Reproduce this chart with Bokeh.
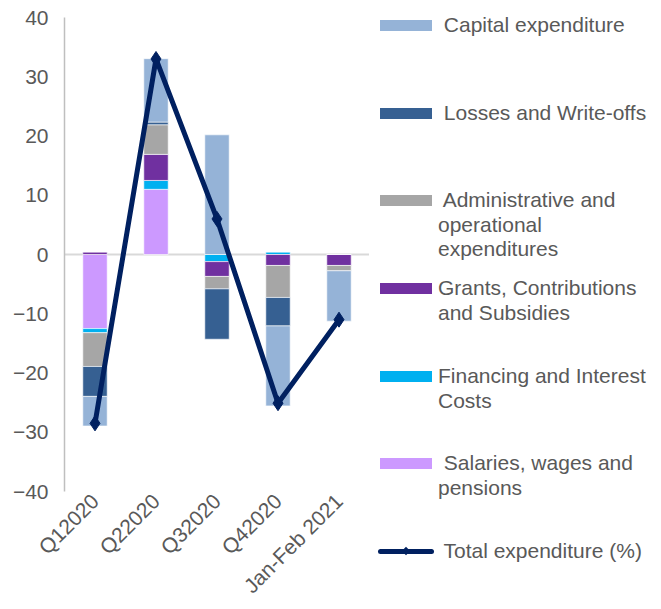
import math
from bokeh.plotting import figure
from bokeh.models import FactorRange, Range1d, FixedTicker, Span, ColumnDataSource, Div
from bokeh.layouts import row
from bokeh.embed import file_html
from bokeh.resources import INLINE

# ---------------- data ----------------
categories = ["Q12020", "Q22020", "Q32020", "Q42020", "Jan-Feb 2021"]
salaries = [-12.5, 11.0, 0.0, 0.0, 0.0]
financing = [-0.7, 1.5, -1.2, 0.4, 0.0]
grants = [0.4, 4.4, -2.5, -1.85, -1.85]
admin = [-5.7, 5.0, -2.1, -5.4, -0.9]
losses = [-5.05, 0.45, -8.5, -4.8, 0.0]
capital = [-5.0, 10.7, 20.2, -13.5, -8.5]
total = [-28.5, 33.0, 6.0, -25.1, -11.0]
y_ticks = [-40, -30, -20, -10, 0, 10, 20, 30, 40]

series_vals = [salaries, financing, grants, admin, losses, capital]
series_colors = ["#CC99FF", "#00B0F0", "#7030A0", "#A6A6A6", "#366092", "#95B3D7"]

# legend (top to bottom)
leg_names = [" Capital expenditure", " Losses and Write-offs",
             " Administrative and\noperational\nexpenditures",
             "Grants, Contributions\nand Subsidies", "Financing and Interest\nCosts",
             " Salaries, wages and\npensions"]
leg_colors = ["#95B3D7", "#366092", "#A6A6A6", "#7030A0", "#00B0F0", "#CC99FF"]
total_name = " Total expenditure (%)"

FONT = "Liberation Sans"
TXT = "#595959"
FIG_W, FIG_H = 369, 608

p = figure(x_range=FactorRange(*categories), y_range=Range1d(-40, 40),
           width=FIG_W, height=FIG_H, output_backend="svg", toolbar_location=None,
           min_border_left=64, min_border_right=0, min_border_top=17,
           min_border_bottom=116)
p.outline_line_color = None
p.xgrid.visible = False
p.ygrid.visible = False

p.add_layout(Span(location=0, dimension="width", line_color="#D9D9D9", line_width=2, level="underlay"))

# stacked bars (positive and negative stacks separately)
pos_base = [0.0] * len(categories)
neg_base = [0.0] * len(categories)
for vals, col in zip(series_vals, series_colors):
    tops, bots = [], []
    for i, v in enumerate(vals):
        if v >= 0:
            bots.append(pos_base[i]); tops.append(pos_base[i] + v); pos_base[i] += v
        else:
            tops.append(neg_base[i]); bots.append(neg_base[i] + v); neg_base[i] += v
    src = ColumnDataSource(dict(x=categories, top=tops, bottom=bots))
    p.vbar(x="x", top="top", bottom="bottom", width=0.4, source=src,
           fill_color=col, line_color="white", line_alpha=0.6, line_width=1)

p.line(categories, total, line_width=5, line_color="#002060")
p.scatter(categories, total, marker="diamond", size=15, color="#002060")

ya = p.yaxis[0]
ya.ticker = FixedTicker(ticks=y_ticks)
ya.axis_line_color = "#BFBFBF"
ya.axis_line_width = 1.5
ya.major_tick_out = 0
ya.major_tick_in = 0
ya.minor_tick_out = 0
ya.minor_tick_in = 0
ya.major_label_standoff = 16
ya.major_label_text_font = FONT
ya.major_label_text_font_size = "21px"
ya.major_label_text_color = TXT

xa = p.xaxis[0]
xa.axis_line_color = None
xa.major_tick_out = 0
xa.major_tick_in = 0
xa.minor_tick_out = 0
xa.major_label_orientation = math.pi / 4
xa.major_label_standoff = 6
xa.major_label_text_font = FONT
xa.major_label_text_font_size = "21px"
xa.major_label_text_color = TXT

# ---------------- legend panel (HTML, positions in px from the panel's top-left) ----------------
DX, DY = -5, -5
item_y = [25, 113, 200, 288, 376, 463]
line_gap = 24.5
parts = []
txt_style = (f"position:absolute;left:{69 + DX}px;height:24px;line-height:24px;white-space:pre;"
             f"font-family:'{FONT}';font-size:21px;color:{TXT};")
for name, col, Y in zip(leg_names, leg_colors, item_y):
    parts.append(f"<div style='position:absolute;left:{11 + DX}px;top:{Y - 5.5 + DY}px;width:52px;height:11px;"
                 f"background:{col};'></div>")
    for k, ln in enumerate(name.split("\n")):
        parts.append(f"<div style=\"{txt_style}top:{Y + k * line_gap - 12 + DY}px;\">{ln}</div>")
parts.append(f"<div style='position:absolute;left:{9 + DX}px;top:{548.5 + DY}px;width:56px;height:5px;"
             "border-radius:3px;background:#002060;'></div>")
parts.append(f"<div style='position:absolute;left:{34 + DX}px;top:{548 + DY}px;width:6px;height:6px;"
             "transform:rotate(45deg);background:#002060;'></div>")
parts.append(f"<div style=\"{txt_style}top:{551 - 12 + DY}px;\">{total_name}</div>")
html = (f"<div style='position:relative;width:276px;height:{FIG_H - 10}px;'>" + "".join(parts) + "</div>")
legend_panel = Div(text=html, width=276, height=FIG_H - 10)

layout = row(p, legend_panel)
open("out.html", "w").write(file_html(layout, INLINE))
